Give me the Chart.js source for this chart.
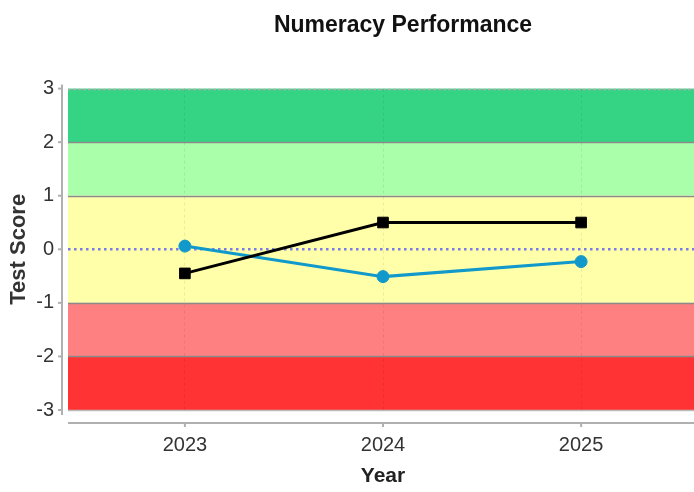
<!DOCTYPE html>
<html>
<head>
<meta charset="utf-8">
<script src="https://cdn.jsdelivr.net/npm/chart.js@4"></script>
<style>
  html, body { margin: 0; padding: 0; background: #fff; overflow: hidden; width: 694px; height: 492px; }
  #wrap { width: 806px; height: 492px; }
</style>
</head>
<body>
<div id="wrap"><canvas id="c" width="806" height="492"></canvas></div>
<script>
// ---- data ----
const years = [2023, 2024, 2025];
const seriesBlack = [-0.45, 0.50, 0.50];
const seriesBlue = [0.06, -0.51, -0.23];
const yTicks = [-3, -2, -1, 0, 1, 2, 3];
const bandLow = [2, 1, -1, -2, -3];
const bandHigh = [3, 2, 1, -1, -2];
const bandColors = ['#35D485', '#AAFFAA', '#FFFFAA', '#FF8080', '#FF3333'];
const xMin = 2022.41, xMax = 2025.59;

const FONT = "'Liberation Sans', Arial, sans-serif";

const bgPlugin = {
  id: 'bg',
  beforeDraw(chart) {
    const { ctx, chartArea: a, scales: { x, y } } = chart;
    ctx.save();
    for (let i = 0; i < bandLow.length; i++) {
      const t = y.getPixelForValue(bandHigh[i]);
      const b = y.getPixelForValue(bandLow[i]);
      ctx.fillStyle = bandColors[i];
      ctx.fillRect(a.left, t, a.right - a.left, b - t);
    }
    // band borders
    yTicks.forEach(v => {
      const py = Math.round(y.getPixelForValue(v)) + 0.5;
      if (v === 0) return;
      ctx.beginPath();
      if (v === 3) { ctx.setLineDash([3, 2]); ctx.strokeStyle = '#aaaaaa'; }
      else if (v === -3) { ctx.setLineDash([]); ctx.strokeStyle = '#bbbbbb'; }
      else { ctx.setLineDash([]); ctx.strokeStyle = '#8a8a8a'; }
      ctx.lineWidth = 1.5;
      ctx.moveTo(a.left, py); ctx.lineTo(a.right, py); ctx.stroke();
    });
    ctx.setLineDash([]);
    // y axis line
    const ax = a.left - 6;
    ctx.strokeStyle = '#b0b0b0';
    ctx.lineWidth = 2;
    ctx.beginPath();
    ctx.moveTo(ax, a.top - 4); ctx.lineTo(ax, a.bottom + 5); ctx.stroke();
    yTicks.forEach(v => {
      const py = y.getPixelForValue(v);
      ctx.beginPath(); ctx.moveTo(ax - 4, py); ctx.lineTo(ax, py); ctx.stroke();
    });
    // x axis line
    const ay = a.bottom + 13;
    ctx.beginPath();
    ctx.moveTo(a.left, ay); ctx.lineTo(a.right, ay); ctx.stroke();
    years.forEach(v => {
      const px = x.getPixelForValue(v);
      ctx.beginPath(); ctx.moveTo(px, ay); ctx.lineTo(px, ay + 4); ctx.stroke();
    });
    ctx.restore();
  },
  beforeDatasetsDraw(chart) {
    const { ctx, chartArea: a, scales: { y } } = chart;
    const py = y.getPixelForValue(0);
    ctx.save();
    ctx.strokeStyle = '#7a7ae8';
    ctx.lineWidth = 2.5;
    ctx.setLineDash([2.5, 3.5]);
    ctx.beginPath();
    ctx.moveTo(a.left, py); ctx.lineTo(a.right, py); ctx.stroke();
    ctx.restore();
  }
};

new Chart(document.getElementById('c'), {
  type: 'line',
  data: {
    datasets: [
      {
        label: 'Black',
        data: years.map((yr, i) => ({ x: yr, y: seriesBlack[i] })),
        borderColor: '#000000',
        backgroundColor: '#000000',
        borderWidth: 3,
        pointStyle: 'rect',
        pointRadius: 7.5,
        pointBorderWidth: 1,
        tension: 0
      },
      {
        label: 'Blue',
        data: years.map((yr, i) => ({ x: yr, y: seriesBlue[i] })),
        borderColor: '#1199CC',
        backgroundColor: '#1199CC',
        borderWidth: 3,
        pointStyle: 'circle',
        pointRadius: 6,
        pointBorderWidth: 1,
        tension: 0
      }
    ]
  },
  options: {
    responsive: false,
    animation: false,
    layout: { padding: 0 },
    plugins: {
      legend: { display: false },
      tooltip: { enabled: false },
      title: {
        display: true,
        text: 'Numeracy Performance',
        color: '#111',
        font: { family: FONT, size: 23, weight: 'bold', lineHeight: 1.2 },
        padding: { top: 12, bottom: 49 }
      }
    },
    scales: {
      x: {
        type: 'linear',
        min: xMin,
        max: xMax,
        afterBuildTicks: s => { s.ticks = years.map(v => ({ value: v })); },
        afterFit: s => { s.height = 82; },
        border: { display: false, dash: [3, 3] },
        grid: { color: 'rgba(0,0,0,0.08)', lineWidth: 1, drawTicks: false },
        ticks: { color: '#333', padding: 23, font: { family: FONT, size: 20 }, callback: v => String(v) },
        title: { display: true, text: 'Year', color: '#222', font: { family: FONT, size: 21, weight: 'bold' }, padding: { top: 0, bottom: 3 } }
      },
      y: {
        min: -3,
        max: 3,
        afterBuildTicks: s => { s.ticks = yTicks.map(v => ({ value: v })); },
        afterFit: s => { s.width = 68; },
        border: { display: false },
        grid: { display: false, drawTicks: false },
        ticks: { color: '#333', padding: 14, font: { family: FONT, size: 20 }, callback: v => String(v) },
        title: { display: true, text: 'Test Score', color: '#333', font: { family: FONT, size: 22, weight: 'bold' }, padding: { top: 6, bottom: 2 } }
      },
      yRight: {
        position: 'right',
        min: -3,
        max: 3,
        afterFit: s => { s.width = 108; },
        border: { display: false },
        grid: { display: false, drawTicks: false },
        ticks: { display: false }
      }
    }
  },
  plugins: [bgPlugin]
});
</script>
</body>
</html>
